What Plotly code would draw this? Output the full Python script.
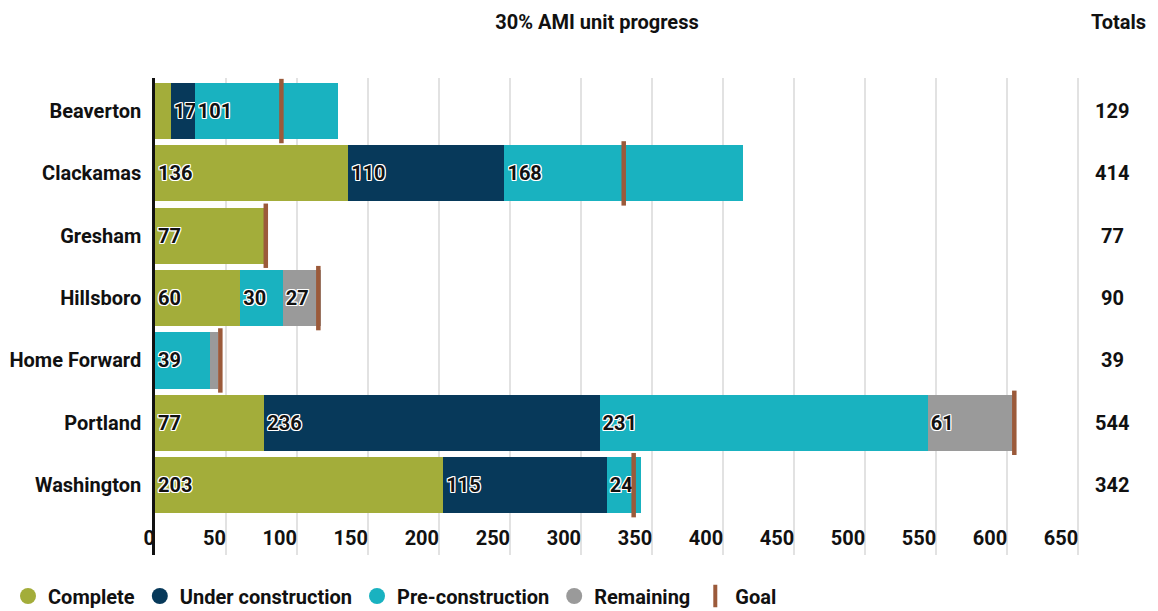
import plotly.graph_objects as go

regions = ["Beaverton", "Clackamas", "Gresham", "Hillsboro", "Home Forward", "Portland", "Washington"]
complete = [11, 136, 77, 60, 0, 77, 203]
under_construction = [17, 110, 0, 0, 0, 236, 115]
pre_construction = [101, 168, 0, 30, 39, 231, 24]
remaining = [0, 0, 0, 27, 5, 61, 0]
goal = [89, 330, 78, 115, 46, 605, 337]
totals = [129, 414, 77, 90, 39, 544, 342]
x_ticks = [0, 50, 100, 150, 200, 250, 300, 350, 400, 450, 500, 550, 600, 650]

FONT = "Roboto, Liberation Sans Narrow, DejaVu Sans Condensed, sans-serif"
C_COMPLETE = "#a3ad3a"
C_UC = "#07395a"
C_PRE = "#19b2c0"
C_REM = "#9a9a9a"
C_GOAL = "#9b5a3a"
SHADOW = "-1px -1px 0 #fff, 1px -1px 0 #fff, -1px 1px 0 #fff, 1px 1px 0 #fff, 0 1px 0 #fff, 0 -1px 0 #fff, 1px 0 0 #fff, -1px 0 0 #fff"

# page body adds an 8px offset; figure sized to fit the window
OFF = 8
W, H = 1158 - OFF, 611 - OFF
ML, MR, MT, MB = 155 - OFF, 40, 78 - OFF, 56
PW, PH = W - ML - MR, H - MT - MB


def labels(vals, min_show=8):
    return [str(v) if v >= min_show else "" for v in vals]


fig = go.Figure()
series = [
    ("Complete", complete, C_COMPLETE, labels(complete, 12)),
    ("Under construction", under_construction, C_UC, labels(under_construction)),
    ("Pre-construction", pre_construction, C_PRE, labels(pre_construction)),
    ("Remaining", remaining, C_REM, labels(remaining)),
]
for name, vals, color, txt in series:
    fig.add_trace(go.Bar(
        y=regions, x=vals, orientation="h", name=name,
        marker=dict(color=color, line=dict(width=0)),
        text=txt, textposition="inside", insidetextanchor="start", textangle=0,
        textfont=dict(family=FONT, size=20, color="#111", weight="bold", shadow=SHADOW),
        width=0.9, showlegend=False, hoverinfo="x+y+name",
    ))

fig.add_trace(go.Scatter(
    y=regions, x=goal, mode="markers", name="Goal",
    marker=dict(symbol="line-ns", size=46, color=C_GOAL, line=dict(color=C_GOAL, width=4.5)),
    showlegend=False,
))

for name, color in [("Complete", C_COMPLETE), ("Under construction", C_UC),
                    ("Pre-construction", C_PRE), ("Remaining", C_REM)]:
    fig.add_trace(go.Scatter(x=[None], y=[None], mode="markers", name=name,
                             marker=dict(symbol="circle", size=16, color=color)))
fig.add_trace(go.Scatter(x=[None], y=[None], mode="markers", name="Goal",
                         marker=dict(symbol="line-ns", size=16, color=C_GOAL,
                                     line=dict(color=C_GOAL, width=4))))

for r, t in zip(regions, totals):
    fig.add_annotation(x=(1112 - OFF - ML) / PW, xref="paper", y=r, yref="y", text=str(t),
                       showarrow=False, xanchor="center",
                       font=dict(family=FONT, size=20, color="#111", weight="bold"))

fig.add_annotation(x=(1118 - OFF - ML) / PW, xref="paper", y=(H - MB - (22 - OFF)) / PH, yref="paper",
                   text="Totals", showarrow=False, xanchor="center", yanchor="middle",
                   font=dict(family=FONT, size=20, color="#111", weight="bold"))

fig.update_layout(
    width=W, height=H,
    barmode="stack",
    paper_bgcolor="white", plot_bgcolor="white",
    margin=dict(l=ML, r=MR, t=MT, b=MB, autoexpand=False),
    uniformtext=dict(minsize=20, mode="show"),
    title=dict(text="30% AMI unit progress", x=(597 - OFF) / W, xref="container", xanchor="center",
               y=1 - (22 - OFF) / H, yref="container", yanchor="middle",
               font=dict(family=FONT, size=20, color="#111", weight="bold")),
    xaxis=dict(range=[0, 678], tickvals=x_ticks, ticktext=[str(v) for v in x_ticks],
               ticklabelposition="inside left", ticklabeloverflow="allow",
               showgrid=True, gridcolor="#e2e2e2", gridwidth=1.5,
               zeroline=False, showline=False, ticks="", automargin=False,
               tickfont=dict(family=FONT, size=20, color="#111", weight="bold")),
    yaxis=dict(categoryorder="array", categoryarray=regions, range=[7.12, -0.53],
               showline=True, linecolor="#111", linewidth=2.5, showgrid=False, zeroline=False,
               ticks="", ticklabelstandoff=7, automargin=False,
               tickfont=dict(family=FONT, size=20, color="#111", weight="bold")),
    legend=dict(orientation="h", xref="container", x=0.0, yref="container", y=1 - 588 / H,
                yanchor="middle", xanchor="left", traceorder="normal",
                font=dict(family=FONT, size=20, color="#111", weight="bold"),
                itemsizing="trace", tracegroupgap=0),
    showlegend=True,
)

fig.write_html("out.html")
